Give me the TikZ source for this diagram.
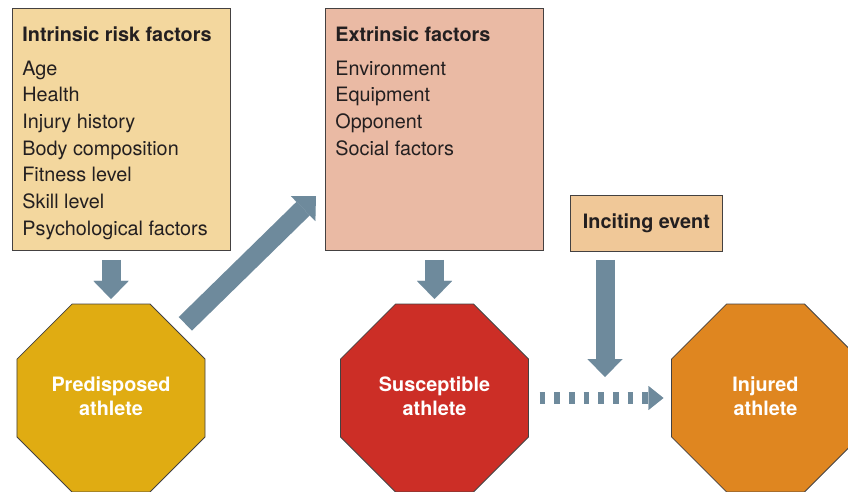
\documentclass[tikz,border=0pt]{standalone}
\usepackage{fontspec}
\setmainfont{TeX Gyre Heros}
\usepackage{xcolor}
\usetikzlibrary{arrows.meta,shapes.geometric}

\definecolor{intrinsicfill}{HTML}{F3D79E}
\definecolor{extrinsicfill}{HTML}{EABAA4}
\definecolor{incitingfill}{HTML}{F0C898}
\definecolor{arrowblue}{HTML}{6E8A9C}
\definecolor{predisposedfill}{HTML}{E0AC12}
\definecolor{susceptiblefill}{HTML}{CC2E26}
\definecolor{injuredfill}{HTML}{DF8620}
\definecolor{inkdark}{HTML}{231F20}

% top-aligned list inside a factor box
\newcommand{\factorlist}[1]{%
  \parbox[t][242pt][t]{198pt}{\raggedright\vspace*{18pt}#1}}

\begin{document}
\begin{tikzpicture}[
    x=1pt, y=1pt,
    factorbox/.style={draw=inkdark!85, line width=0.8pt, anchor=north west,
        inner xsep=10pt, inner ysep=0pt, text=inkdark,
        font=\fontsize{19.8}{26.7}\selectfont},
    athlete/.style={regular polygon, regular polygon sides=8,
        minimum size=203.5pt, inner sep=0pt, outer sep=0pt,
        draw=inkdark!85, line width=0.8pt, text=white, align=center,
        text depth=4.5pt,
        font=\bfseries\fontsize{19.8}{24}\selectfont},
    bigmove/.style={draw=arrowblue, line width=19pt,
        -{Triangle[length=18pt, width=35pt, line width=0.01pt]}},
    chance/.style={draw=arrowblue, line width=12pt,
        dash pattern=on 5.7pt off 9pt,
        -{Triangle[length=15pt, width=24pt, line width=0.01pt]}}
]

\useasboundingbox (0,0) rectangle (848,491);
\clip (0,0) rectangle (848,491);

% -------------------------------------------------
% Risk factor boxes
% -------------------------------------------------

\node[factorbox, fill=intrinsicfill] (intrinsic) at (12,483)
{\factorlist{%
    \textbf{Intrinsic risk factors}\\[7.3pt]
    Age\\
    Health\\
    Injury history\\
    Body composition\\
    Fitness level\\
    Skill level\\
    Psychological factors}};

\node[factorbox, fill=extrinsicfill] (extrinsic) at (325,483)
{\factorlist{%
    \textbf{Extrinsic factors}\\[7.3pt]
    Environment\\
    Equipment\\
    Opponent\\
    Social factors}};

\node[factorbox, fill=incitingfill, inner sep=0pt,
    minimum width=152pt, minimum height=56pt,
    font=\bfseries\fontsize{19.8}{24}\selectfont] (inciting) at (570,296)
{Inciting event};

% -------------------------------------------------
% Athlete states
% -------------------------------------------------

\node[athlete, fill=predisposedfill] (predisposed) at (111,93)
{Predisposed\\athlete};

\node[athlete, fill=susceptiblefill] (susceptible) at (434.5,93)
{Susceptible\\athlete};

\node[athlete, fill=injuredfill] (injured) at (765.5,93)
{Injured\\athlete};

% -------------------------------------------------
% Arrows
% -------------------------------------------------

\coordinate (reach) at (316,295);
\coordinate (strike) at (605,114);

\draw[bigmove, shorten <=9pt, shorten >=5pt]
  (predisposed.north |- intrinsic.south)
  -- (predisposed.north);

\draw[bigmove, shorten <=11pt]
  (predisposed.45)
  -- (reach);

\draw[bigmove, shorten <=9pt, shorten >=5pt]
  (susceptible.north |- extrinsic.south)
  -- (susceptible.north);

\draw[bigmove, shorten <=8pt]
  (inciting.south -| strike)
  -- (strike);

\draw[chance, shorten <=11pt, shorten >=8pt]
  (susceptible.east)
  -- (injured.west);

\end{tikzpicture}
\end{document}
